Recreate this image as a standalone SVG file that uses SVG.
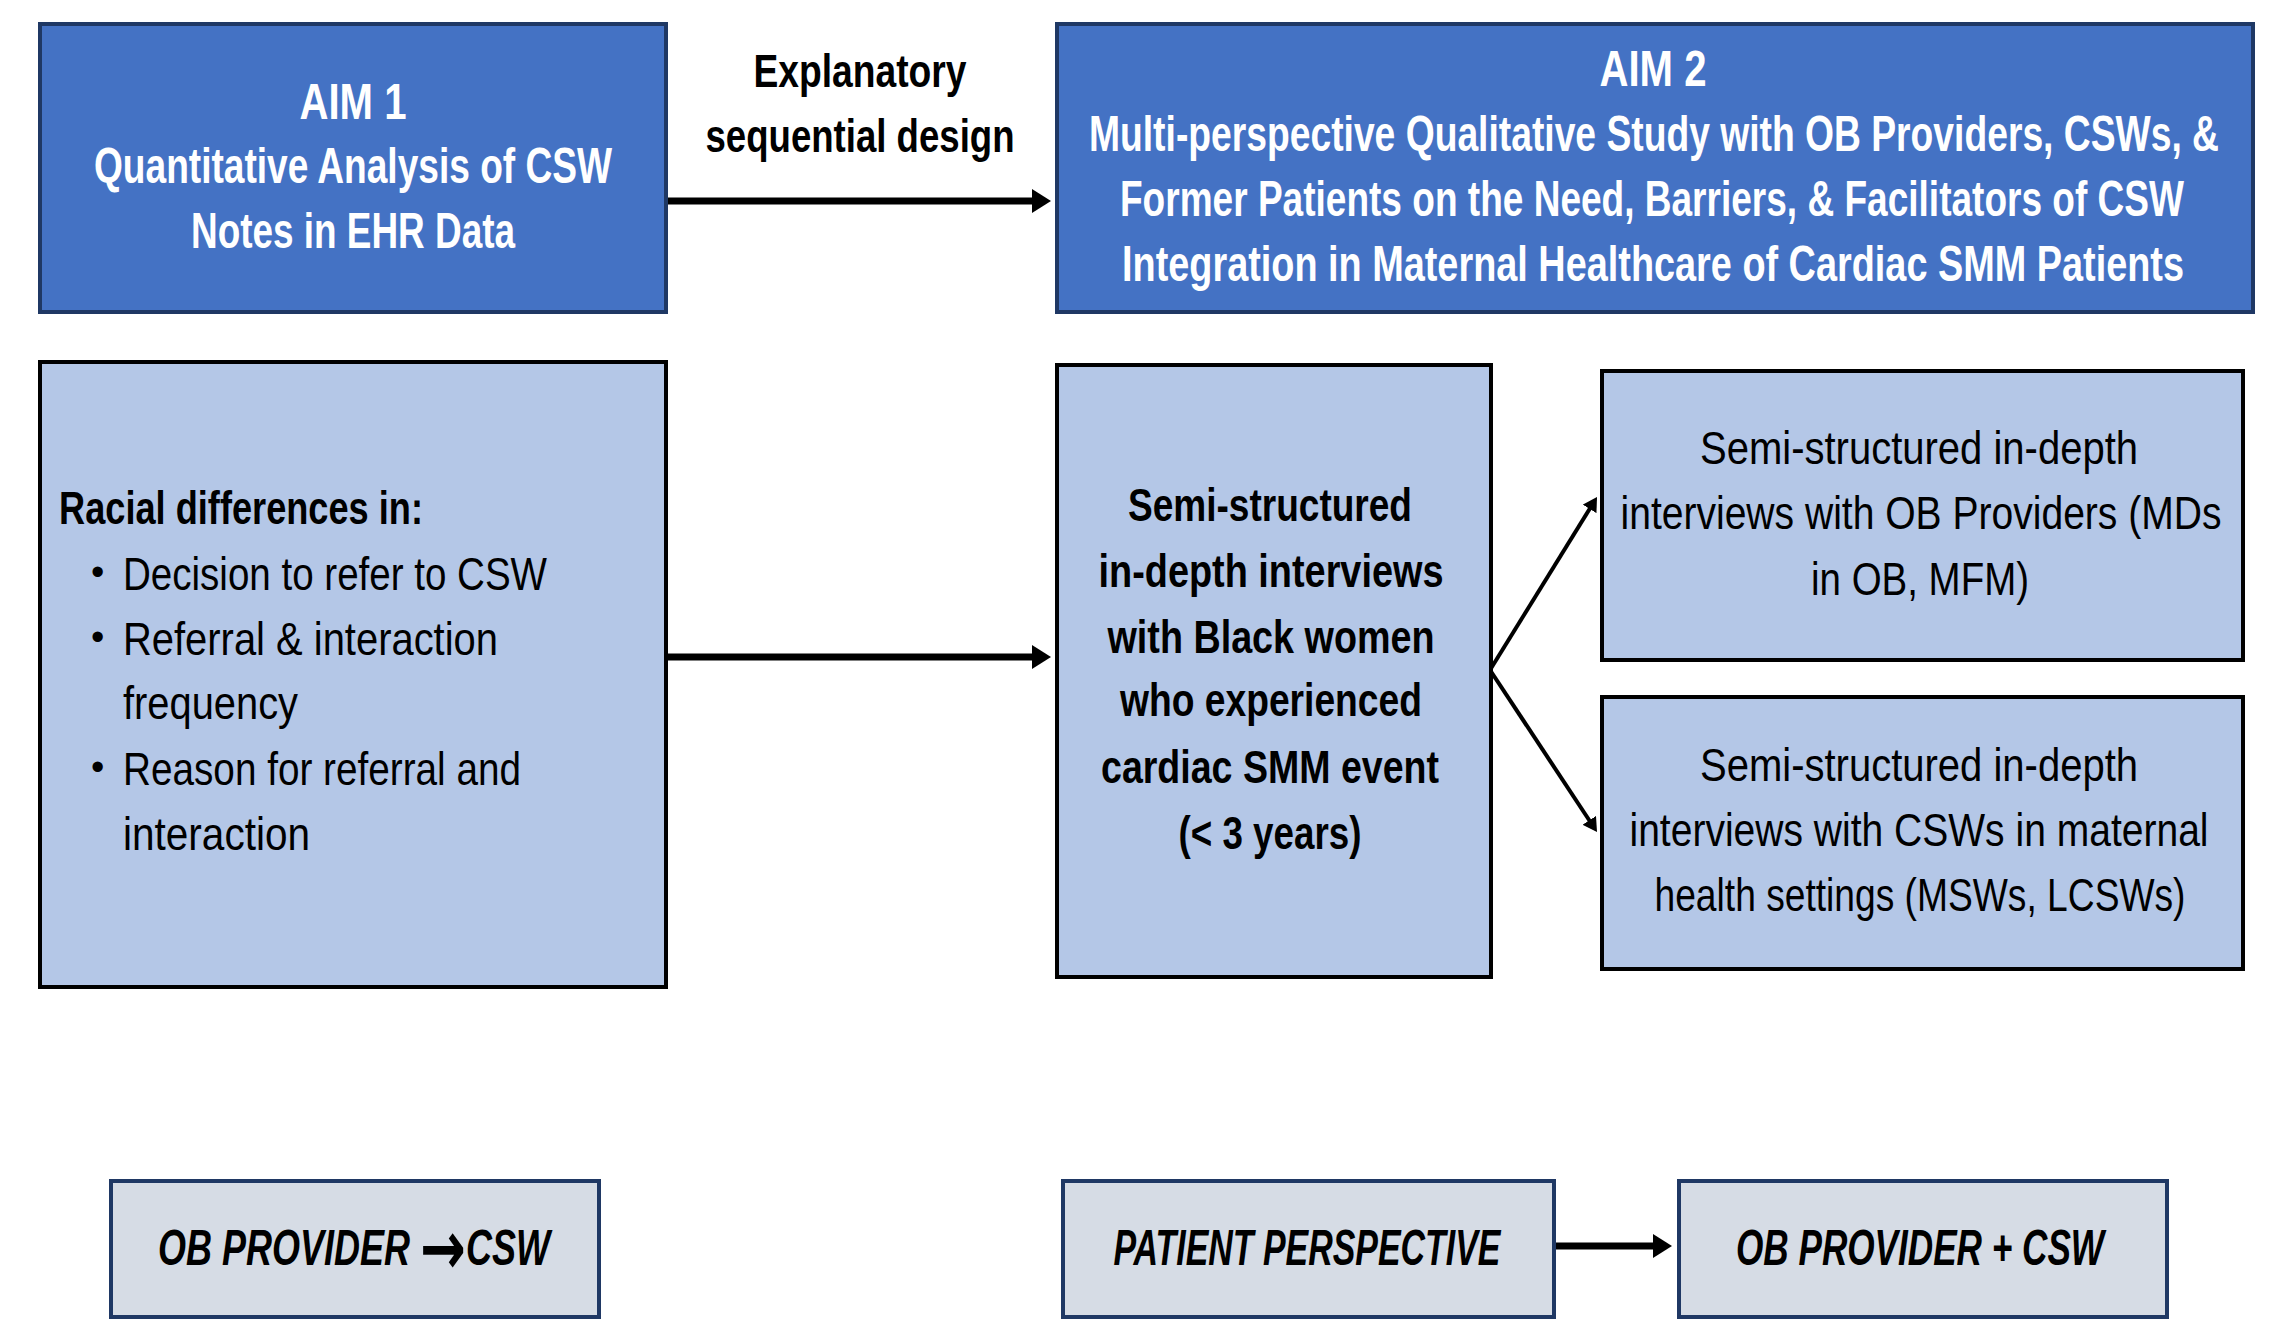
<svg xmlns="http://www.w3.org/2000/svg" width="2270" height="1322" viewBox="0 0 2270 1322">
<style>
.t { font-family: "Liberation Sans", Arial, sans-serif; font-size: 47px; fill: #000; }
.h { font-size: 50px; font-weight: bold; fill: #fff; }
.b { font-weight: bold; }
.bl { font-size: 38px; }
.lbl { font-size: 50px; font-weight: bold; font-style: italic; }
.arr { font-family: "DejaVu Sans", sans-serif; font-style: normal; font-weight: bold; font-size: 76px; }
.aim { fill: #4472C4; stroke: #1F3864; stroke-width: 4; }
.lt { fill: #B4C7E7; stroke: #000; stroke-width: 4; }
.bt { fill: #D6DCE5; stroke: #1F3864; stroke-width: 4; }
.c { fill: none; stroke: #000; }
.thick { stroke-width: 7; marker-end: url(#ah); }
.thin { stroke-width: 4; marker-end: url(#ahs); }
</style>
<defs>
<marker id="ah" markerUnits="userSpaceOnUse" markerWidth="20" markerHeight="24" refX="2" refY="12" orient="auto">
<path d="M0,0 L19,12 L0,24 z" fill="#000"/>
</marker>
<marker id="ahs" markerUnits="userSpaceOnUse" markerWidth="15" markerHeight="16" refX="2" refY="8" orient="auto">
<path d="M0,0 L14,8 L0,16 z" fill="#000"/>
</marker>
</defs>
<rect width="2270" height="1322" fill="#fff"/>

<g id="connectors">
<line class="c thick" x1="666" y1="201" x2="1034" y2="201"/>
<line class="c thick" x1="666" y1="657" x2="1034" y2="657"/>
<line class="c thin" x1="1490" y1="670" x2="1590.7" y2="507.2"/>
<line class="c thin" x1="1490" y1="670" x2="1590.4" y2="822"/>
<line class="c thick" x1="1554" y1="1246" x2="1655" y2="1246"/>
<g id="label-explanatory">
<text class="t b" x="860" y="87" text-anchor="middle" textLength="213" lengthAdjust="spacingAndGlyphs">Explanatory</text>
<text class="t b" x="860" y="152" text-anchor="middle" textLength="309" lengthAdjust="spacingAndGlyphs">sequential design</text>
</g>
</g>

<g id="aim1">
<rect class="aim" x="40" y="24" width="626" height="288"/>
<text class="t h" x="353" y="119" text-anchor="middle" textLength="107" lengthAdjust="spacingAndGlyphs">AIM 1</text>
<text class="t h" x="353" y="183" text-anchor="middle" textLength="518" lengthAdjust="spacingAndGlyphs">Quantitative Analysis of CSW</text>
<text class="t h" x="353" y="248" text-anchor="middle" textLength="324" lengthAdjust="spacingAndGlyphs">Notes in EHR Data</text>
</g>

<g id="aim2">
<rect class="aim" x="1057" y="24" width="1196" height="288"/>
<text class="t h" x="1653" y="86" text-anchor="middle" textLength="107" lengthAdjust="spacingAndGlyphs">AIM 2</text>
<text class="t h" x="1654" y="151" text-anchor="middle" textLength="1130" lengthAdjust="spacingAndGlyphs">Multi-perspective Qualitative Study with OB Providers, CSWs, &amp;</text>
<text class="t h" x="1652" y="216" text-anchor="middle" textLength="1064" lengthAdjust="spacingAndGlyphs">Former Patients on the Need, Barriers, &amp; Facilitators of CSW</text>
<text class="t h" x="1653" y="281" text-anchor="middle" textLength="1062" lengthAdjust="spacingAndGlyphs">Integration in Maternal Healthcare of Cardiac SMM Patients</text>
</g>

<g id="racial-differences">
<rect class="lt" x="40" y="362" width="626" height="625"/>
<text class="t b" x="59" y="524" textLength="364" lengthAdjust="spacingAndGlyphs">Racial differences in:</text>
<text class="t bl" x="91" y="585">•</text>
<text class="t" x="123" y="590" textLength="424" lengthAdjust="spacingAndGlyphs">Decision to refer to CSW</text>
<text class="t bl" x="91" y="650">•</text>
<text class="t" x="123" y="655" textLength="375" lengthAdjust="spacingAndGlyphs">Referral &amp; interaction</text>
<text class="t" x="123" y="719" textLength="175" lengthAdjust="spacingAndGlyphs">frequency</text>
<text class="t bl" x="91" y="780">•</text>
<text class="t" x="123" y="785" textLength="398" lengthAdjust="spacingAndGlyphs">Reason for referral and</text>
<text class="t" x="123" y="850" textLength="187" lengthAdjust="spacingAndGlyphs">interaction</text>
</g>

<g id="patient-interviews">
<rect class="lt" x="1057" y="365" width="434" height="612"/>
<text class="t b" x="1270" y="521" text-anchor="middle" textLength="284" lengthAdjust="spacingAndGlyphs">Semi-structured</text>
<text class="t b" x="1271" y="587" text-anchor="middle" textLength="345" lengthAdjust="spacingAndGlyphs">in-depth interviews</text>
<text class="t b" x="1271" y="653" text-anchor="middle" textLength="327" lengthAdjust="spacingAndGlyphs">with Black women</text>
<text class="t b" x="1271" y="716" text-anchor="middle" textLength="302" lengthAdjust="spacingAndGlyphs">who experienced</text>
<text class="t b" x="1270" y="783" text-anchor="middle" textLength="338" lengthAdjust="spacingAndGlyphs">cardiac SMM event</text>
<text class="t b" x="1270" y="849" text-anchor="middle" textLength="183" lengthAdjust="spacingAndGlyphs">(&lt; 3 years)</text>
</g>

<g id="ob-interviews">
<rect class="lt" x="1602" y="371" width="641" height="289"/>
<text class="t" x="1919" y="464" text-anchor="middle" textLength="438" lengthAdjust="spacingAndGlyphs">Semi-structured in-depth</text>
<text class="t" x="1921" y="529" text-anchor="middle" textLength="601" lengthAdjust="spacingAndGlyphs">interviews with OB Providers (MDs</text>
<text class="t" x="1920" y="595" text-anchor="middle" textLength="218" lengthAdjust="spacingAndGlyphs">in OB, MFM)</text>
</g>

<g id="csw-interviews">
<rect class="lt" x="1602" y="697" width="641" height="272"/>
<text class="t" x="1919" y="781" text-anchor="middle" textLength="438" lengthAdjust="spacingAndGlyphs">Semi-structured in-depth</text>
<text class="t" x="1919" y="846" text-anchor="middle" textLength="579" lengthAdjust="spacingAndGlyphs">interviews with CSWs in maternal</text>
<text class="t" x="1920" y="911" text-anchor="middle" textLength="531" lengthAdjust="spacingAndGlyphs">health settings (MSWs, LCSWs)</text>
</g>

<g id="ob-provider-csw">
<rect class="bt" x="111" y="1181" width="488" height="136"/>
<text class="t lbl" x="354" y="1265" text-anchor="middle" textLength="392" lengthAdjust="spacingAndGlyphs">OB PROVIDER <tspan class="arr" dy="9">→</tspan><tspan dy="-9">CSW</tspan></text>
</g>

<g id="patient-perspective">
<rect class="bt" x="1063" y="1181" width="491" height="136"/>
<text class="t lbl" x="1307" y="1265" text-anchor="middle" textLength="387" lengthAdjust="spacingAndGlyphs">PATIENT PERSPECTIVE</text>
</g>

<g id="ob-provider-plus-csw">
<rect class="bt" x="1679" y="1181" width="488" height="136"/>
<text class="t lbl" x="1920" y="1265" text-anchor="middle" textLength="368" lengthAdjust="spacingAndGlyphs">OB PROVIDER + CSW</text>
</g>
</svg>
